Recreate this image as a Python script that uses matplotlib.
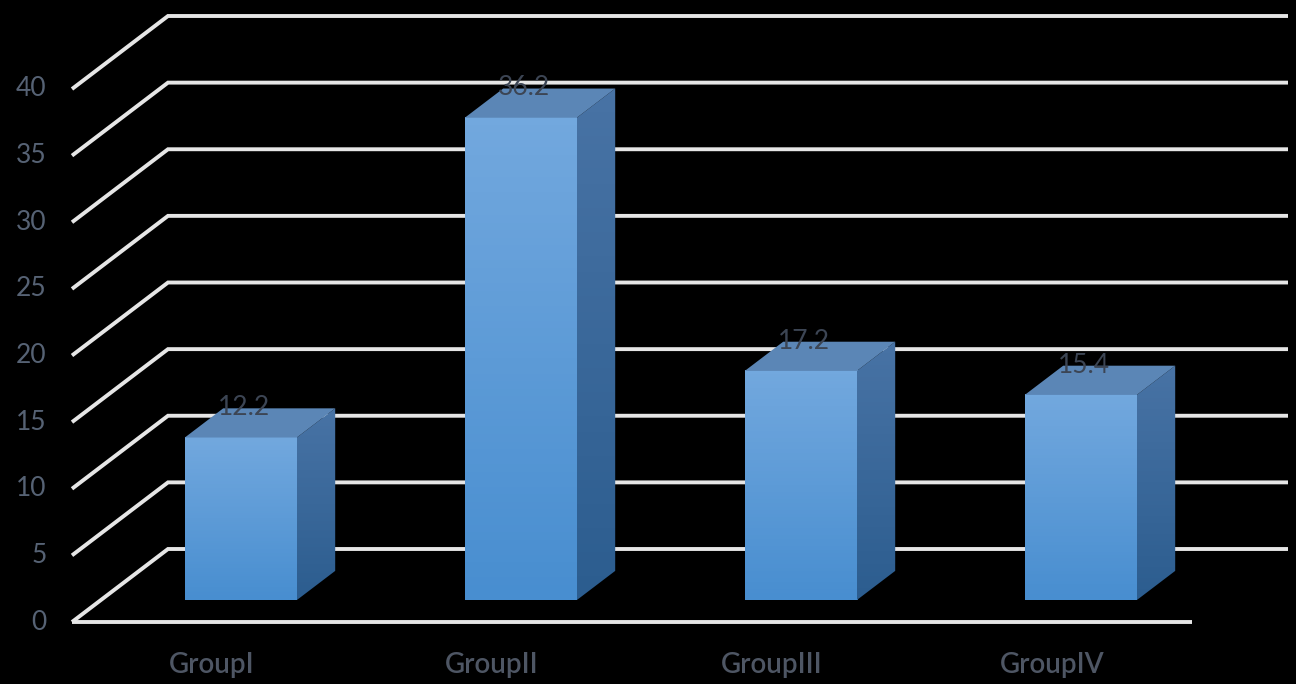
import numpy as np
import matplotlib.pyplot as plt
from matplotlib.patches import Polygon

groups = ['GroupI', 'GroupII', 'GroupIII', 'GroupIV']
values = [12.2, 36.2, 17.2, 15.4]
yticks = [0, 5, 10, 15, 20, 25, 30, 35, 40]

plt.rcParams['font.family'] = ['Lato', 'DejaVu Sans']

# fake 3d: depth offset of the walls, in data units
PX_CAT = 280.0      # pixels per category
PX_VAL = 13.325     # pixels per value unit
DX = 96 / PX_CAT
DY = 73 / PX_VAL
n = len(groups)

fig = plt.figure(figsize=(12.96, 6.84), dpi=100, facecolor='black')
ax = fig.add_axes([0, 0, 1, 1])
ax.set_facecolor('black')
ax.axis('off')

grid_kw = dict(color='#e6e6e6', lw=2.8, solid_capstyle='butt', solid_joinstyle='miter', zorder=1)
for t in yticks:
    ax.plot([0, DX, n + DX], [t, t + DY, t + DY], **grid_kw)
    ax.text(-0.09, t, str(t), ha='right', va='center', fontsize=19, color='#566274')
ax.plot([0, n], [0, 0], **grid_kw)


def grad(c_top, c_bot, steps=64):
    c_top = np.array(c_top) / 255.0
    c_bot = np.array(c_bot) / 255.0
    f = np.linspace(0, 1, steps)[:, None]
    return (c_top * (1 - f) + c_bot * f)[:, None, :]


front_img = grad((114, 168, 222), (72, 142, 208))
side_img = grad((72, 115, 165), (44, 93, 143))

d0, dd = 0.3, 0.4
for i, v in enumerate(values):
    x0 = i + 0.3 + d0 * DX
    x1 = i + 0.7 + d0 * DX
    y0 = d0 * DY
    y1 = v + d0 * DY
    ox, oy = dd * DX, dd * DY

    ax.imshow(front_img, extent=(x0, x1, y0, y1), origin='upper', aspect='auto', zorder=3)

    side = Polygon([(x1, y0), (x1 + ox, y0 + oy), (x1 + ox, y1 + oy), (x1, y1)],
                   closed=True, facecolor='none', edgecolor='none', zorder=3)
    ax.add_patch(side)
    im = ax.imshow(side_img, extent=(x1, x1 + ox, y0, y1 + oy), origin='upper', aspect='auto', zorder=3)
    im.set_clip_path(side)

    top = Polygon([(x0, y1), (x1, y1), (x1 + ox, y1 + oy), (x0 + ox, y1 + oy)],
                  closed=True, facecolor='#5b86b6', edgecolor='none', zorder=4)
    ax.add_patch(top)

    ax.text(i + 0.5 + 0.33 * DX, v + 0.7 * DY + 0.05, f'{v}', ha='center', va='center',
            fontsize=19, color='#3c4554', zorder=5)
    ax.text(i + 0.5, -3.2, groups[i], ha='center', va='center', fontsize=20,
            fontweight='semibold', color='#4e5664')

ax.set_xlim(-72 / PX_CAT, (1296 - 72) / PX_CAT)
ax.set_ylim(-(684 - 622) / PX_VAL, 622 / PX_VAL)

fig.savefig('out.png', dpi=100, facecolor='black')
